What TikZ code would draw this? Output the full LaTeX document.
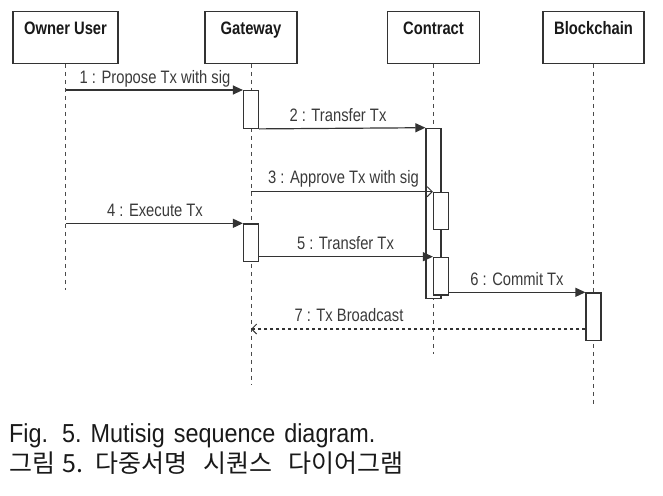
\documentclass[tikz,border=0pt]{standalone}
\usepackage{fontspec}
\usetikzlibrary{arrows.meta,calc}
\newfontfamily\narrowfont[FakeStretch=0.82]{Liberation Sans}
\newfontfamily\capfont[FakeStretch=0.9]{Liberation Sans}
\newfontfamily\krfont{Noto Sans CJK KR}
\definecolor{ln}{HTML}{333333}
\definecolor{ll}{HTML}{4A4A4A}
\definecolor{tx}{HTML}{3A3A3A}
\tikzset{
  headbox/.style={draw=ln, line width=1.2pt, fill=white, minimum height=51.6pt, inner sep=0pt},
  headtxt/.style={anchor=base, inner sep=0pt, text=black!90, font=\narrowfont\bfseries\fontsize{18}{20}\selectfont},
  lifeline/.style={draw=ll, line width=0.9pt, dash pattern=on 4pt off 4pt},
  actbar/.style={draw=ln, line width=1.2pt, fill=white, minimum width=15pt, inner sep=0pt, anchor=north},
  msglbl/.style={anchor=base, inner sep=0pt, text=tx, font=\narrowfont\fontsize{18}{20}\selectfont},
  syncmsg/.style={draw=ln, line width=1.2pt, -{Triangle[length=10pt,width=9pt]}},
  openmsg/.style={draw=ln, line width=1.2pt, -{Straight Barb[length=5pt,width=10pt,line width=1pt]}},
  retmsg/.style={draw=ln, line width=1.2pt, dash pattern=on 3pt off 3pt, -{Straight Barb[length=5pt,width=10pt,line width=1pt]}},
  captxt/.style={anchor=base west, inner sep=0pt, text=black!90},
}
\begin{document}
\begin{tikzpicture}[x=1pt,y=-1pt]
\useasboundingbox (0,0) rectangle (663,495);
% lifelines
\coordinate (l1e) at (65.5,290);
\coordinate (l2e) at (251,385);
\coordinate (l3e) at (433.5,354);
\coordinate (l4e) at (593.5,405);
\node[headbox, minimum width=105pt] (ou) at (65.5,37.5) {};
\node[headbox, minimum width=92pt] (gw) at (251,37.5) {};
\node[headbox, minimum width=92pt] (ct) at (433.5,37.5) {};
\node[headbox, minimum width=101pt] (bc) at (593.5,37.5) {};
\node[headtxt] (ouT) at (65.5,34.5) {Owner User};
\node[headtxt] (gwT) at (251,34.5) {Gateway};
\node[headtxt] (ctT) at (433.5,34.5) {Contract};
\node[headtxt] (bcT) at (593.5,34.5) {Blockchain};
\draw[lifeline] (ou.south) -- (l1e);
\draw[lifeline] (gw.south) -- (l2e);
\draw[lifeline] (ct.south) -- (l3e);
\draw[lifeline] (bc.south) -- (l4e);
% activation bars
\node[actbar, minimum height=37.7pt] (g1) at (251,90) {};
\node[actbar, minimum height=37.7pt] (g2) at (251,223.3) {};
\node[actbar, minimum height=170pt] (ca) at (433.5,127.7) {};
\node[actbar, minimum height=37.3pt] (cb) at (441,191.7) {};
\node[actbar, minimum height=37.6pt] (cc) at (441,256.7) {};
\node[actbar, minimum height=47.7pt] (ba) at (593.5,292.3) {};
% message endpoints on lifelines
\coordinate (m1s) at (65.5,90);
\coordinate (m3s) at (251,191.7);
\coordinate (m4s) at (65.5,223.3);
\coordinate (m7e) at (251,329);
% messages
\draw[syncmsg] (m1s) -- (g1.north west);
\draw[syncmsg] (g1.south east) -- (ca.north west);
\draw[openmsg] (m3s) -- (cb.north west);
\draw[syncmsg] (m4s) -- (g2.north west);
\draw[syncmsg] (cc.north west -| g2.east) -- (cc.north west);
\draw[syncmsg] (ba.north west -| cc.east) -- (ba.north west);
\draw[retmsg] (m7e -| ba.west) -- (m7e);
% labels
\node[msglbl] (t1) at (155,83.5) {1 : Propose Tx with sig};
\node[msglbl] (t2) at (338,121.5) {2 : Transfer Tx};
\node[msglbl] (t3) at (343.5,183.5) {3 : Approve Tx with sig};
\node[msglbl] (t4) at (155,216.5) {4 : Execute Tx};
\node[msglbl] (t5) at (345.5,249) {5 : Transfer Tx};
\node[msglbl] (t6) at (517,285.5) {6 : Commit Tx};
\node[msglbl] (t7) at (349,321) {7 : Tx Broadcast};
% caption
\node[captxt, font=\capfont\fontsize{26}{28}\selectfont] (cap1) at (9,442) {Fig.\hspace{14pt}5.\hspace{9pt}Mutisig\hspace{9pt}sequence\hspace{9pt}diagram.};
\node[captxt, font=\krfont\fontsize{25}{28}\selectfont] (cap2) at (9,472) {그림\hspace{7pt}5.\hspace{12pt}다중서명\hspace{16pt}시퀀스\hspace{16pt}다이어그램};
\end{tikzpicture}
\end{document}
